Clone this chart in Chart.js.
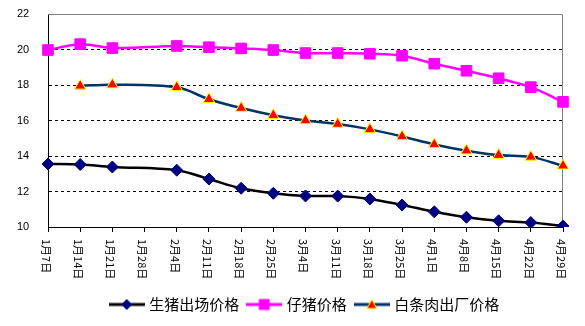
<!DOCTYPE html>
<html>
<head>
<meta charset="utf-8">
<script src="https://cdn.jsdelivr.net/npm/chart.js@4/dist/chart.umd.min.js"></script>
<style>
  body { margin: 0; background: #fff; }
  #wrap { width: 585px; height: 326px; }
</style>
</head>
<body>
<div id="wrap"><canvas id="myChart"></canvas></div>
<script>
// data
const dates = ['1月7日', '1月14日', '1月21日', '1月28日', '2月4日', '2月11日', '2月18日', '2月25日',
    '3月4日', '3月11日', '3月18日', '3月25日', '4月1日', '4月8日', '4月15日', '4月22日', '4月29日'];
const hogPrice = [13.55, 13.52, 13.38, null, 13.2, 12.7, 12.18, 11.9, 11.75, 11.74, 11.58, 11.24, 10.86, 10.55, 10.35, 10.25, 10.05];
const pigletPrice = [19.97, 20.3, 20.08, null, 20.2, 20.13, 20.06, 19.97, 19.8, 19.8, 19.76, 19.65, 19.2, 18.8, 18.38, 17.88, 17.05];
const porkPrice = [null, 17.95, 18.02, null, 17.87, 17.2, 16.7, 16.3, 16.0, 15.8, 15.5, 15.1, 14.65, 14.3, 14.05, 13.95, 13.45];
const yTicks = [10, 12, 14, 16, 18, 20, 22];

const cjk = '"Noto Sans CJK SC", sans-serif';

// little canvas with line + marker for the legend
function legendIcon(lineColor, shape, fill, stroke) {
    let c = document.createElement('canvas');
    c.width = 36; c.height = 14;
    let g = c.getContext('2d');
    g.strokeStyle = lineColor;
    g.lineWidth = 3;
    g.beginPath(); g.moveTo(0, 7); g.lineTo(36, 7); g.stroke();
    g.fillStyle = fill;
    g.strokeStyle = stroke;
    g.lineWidth = 1;
    g.beginPath();
    if (shape == 'diamond') {
        g.moveTo(18, 2); g.lineTo(23, 7); g.lineTo(18, 12); g.lineTo(13, 7);
    } else if (shape == 'square') {
        g.rect(13, 2, 10, 10);
    } else {
        g.moveTo(18, 2); g.lineTo(23, 11); g.lineTo(13, 11);
    }
    g.closePath(); g.fill(); g.stroke();
    return c;
}

const icons = [
    legendIcon('#000000', 'diamond', '#000080', '#000080'),
    legendIcon('#ff00ff', 'square', '#ff00ff', '#ff00ff'),
    legendIcon('#003366', 'triangle', '#ff0000', '#ffff00')
];

// vertical x labels (top to bottom, like the original)
const xLabels = {
    id: 'xLabels',
    afterDraw(chart) {
        const ctx = chart.ctx;
        const x = chart.scales.x;
        ctx.save();
        ctx.font = '11px ' + cjk;
        ctx.fillStyle = '#000';
        ctx.textAlign = 'left';
        ctx.textBaseline = 'middle';
        dates.forEach(function(d, i) {
            ctx.save();
            ctx.translate(x.getPixelForValue(i) - 2, x.top + 12);
            ctx.rotate(Math.PI / 2);
            ctx.fillText(d, 0, 0);
            ctx.restore();
        });
        ctx.restore();
    }
};

// grey top and right edge of the plot area
const plotFrame = {
    id: 'plotFrame',
    beforeDatasetsDraw(chart) {
        const ctx = chart.ctx;
        const a = chart.chartArea;
        ctx.save();
        ctx.strokeStyle = '#808080';
        ctx.lineWidth = 1;
        ctx.beginPath();
        ctx.moveTo(a.left, a.top + 0.5);
        ctx.lineTo(a.right - 0.5, a.top + 0.5);
        ctx.lineTo(a.right - 0.5, a.bottom);
        ctx.stroke();
        ctx.restore();
    }
};

var myChart = new Chart(document.getElementById('myChart').getContext('2d'), {
    type: 'line',
    data: {
        labels: dates,
        datasets: [
            {
                label: '生猪出场价格',
                data: hogPrice,
                borderColor: '#000000',
                borderWidth: 2.5,
                pointStyle: 'rectRot',
                pointRadius: 6,
                pointBackgroundColor: '#000080',
                pointBorderColor: '#000080',
                pointBorderWidth: 1
            },
            {
                label: '仔猪价格',
                data: pigletPrice,
                borderColor: '#ff00ff',
                borderWidth: 2.5,
                pointStyle: 'rect',
                pointRadius: 7.5,
                pointBackgroundColor: '#ff00ff',
                pointBorderColor: '#ff00ff',
                pointBorderWidth: 1
            },
            {
                label: '白条肉出厂价格',
                data: porkPrice,
                borderColor: '#003366',
                borderWidth: 2.5,
                pointStyle: 'triangle',
                pointRadius: 6.5,
                pointBackgroundColor: '#ff0000',
                pointBorderColor: '#ffff00',
                pointBorderWidth: 1
            }
        ]
    },
    options: {
        responsive: true,
        maintainAspectRatio: false,
        animation: false,
        spanGaps: true,
        elements: { line: { tension: 0.35 } },
        layout: { padding: { top: 14, right: 22, left: 17, bottom: 4 } },
        plugins: {
            tooltip: { enabled: false },
            legend: {
                position: 'bottom',
                fullSize: false,
                labels: {
                    usePointStyle: true,
                    pointStyleWidth: 30,
                    padding: 10,
                    color: '#000',
                    font: { size: 15, family: cjk },
                    generateLabels: function(chart) {
                        return chart.data.datasets.map(function(ds, i) {
                            return { text: ds.label, pointStyle: icons[i], datasetIndex: i, lineWidth: 0, hidden: false, fontColor: '#000' };
                        });
                    }
                }
            }
        },
        scales: {
            x: {
                offset: false,
                grid: { drawOnChartArea: false, drawTicks: true, tickLength: 5, color: '#000' },
                border: { color: '#000', width: 1 },
                ticks: { display: false },
                afterFit: function(scale) { scale.height = 60; }
            },
            y: {
                min: 10,
                max: 22,
                afterBuildTicks: function(scale) { scale.ticks = yTicks.map(v => ({ value: v })); },
                grid: {
                    drawTicks: false,
                    color: ctx => (ctx.tick && (ctx.tick.value == 10 || ctx.tick.value == 22)) ? 'rgba(0,0,0,0)' : '#000',
                    lineWidth: 1
                },
                border: { color: '#000', width: 1, dash: [3, 3] },
                ticks: {
                    padding: 0,
                    crossAlign: 'far',
                    color: '#000',
                    font: { size: 11, family: '"Liberation Sans", sans-serif' }
                },
                afterFit: function(scale) { scale.width = 31; }
            }
        }
    },
    plugins: [xLabels, plotFrame]
});
</script>
</body>
</html>
